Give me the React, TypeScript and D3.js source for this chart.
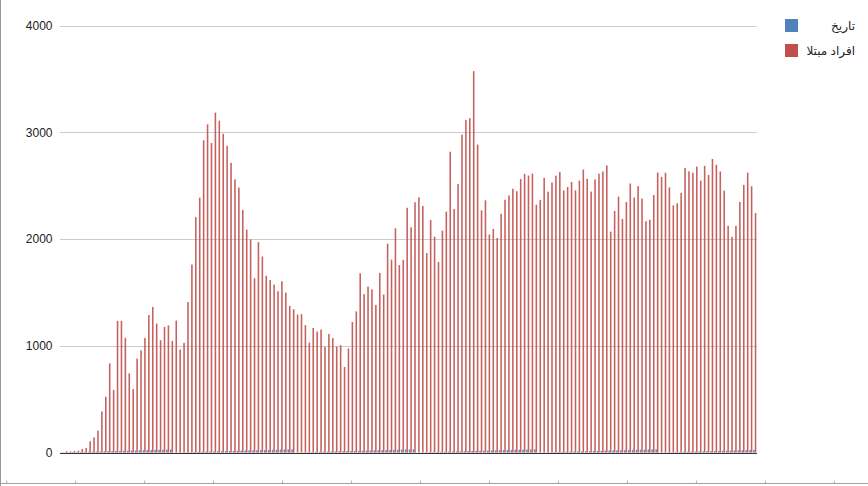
import React from "react";
import * as d3 from "d3";

// Days from 20 Feb 2020 (1 Esfand 1398) to 15 Aug 2020 (25 Mordad 1399)
const seriesNames = ["تاریخ", "افراد مبتلا"];
const seriesColors = ["#4f81bd", "#c0504d"];

// Persian day-of-month ("تاریخ")
const dateValues = [
  1, 2, 3, 4, 5, 6, 7, 8, 9, 10,
  11, 12, 13, 14, 15, 16, 17, 18, 19, 20, 21, 22, 23, 24, 25, 26, 27, 28, 29,
  1, 2, 3, 4, 5, 6, 7, 8, 9, 10, 11, 12, 13, 14, 15, 16, 17, 18, 19, 20, 21, 22, 23, 24, 25, 26, 27, 28, 29, 30, 31,
  1, 2, 3, 4, 5, 6, 7, 8, 9, 10, 11, 12, 13, 14, 15, 16, 17, 18, 19, 20, 21, 22, 23, 24, 25, 26, 27, 28, 29, 30, 31,
  1, 2, 3, 4, 5, 6, 7, 8, 9, 10, 11, 12, 13, 14, 15, 16, 17, 18, 19, 20, 21, 22, 23, 24, 25, 26, 27, 28, 29, 30, 31,
  1, 2, 3, 4, 5, 6, 7, 8, 9, 10, 11, 12, 13, 14, 15, 16, 17, 18, 19, 20, 21, 22, 23, 24, 25, 26, 27, 28, 29, 30, 31,
  1, 2, 3, 4, 5, 6, 7, 8, 9, 10, 11, 12, 13, 14, 15, 16, 17, 18, 19, 20, 21, 22, 23, 24, 25,
];

// Daily infected ("افراد مبتلا")
const casesValues = [
  // Feb 20-29
  3, 13, 10, 15, 18, 34, 44, 106, 143, 205,
  // Mar
  385, 523, 835, 586, 1234, 1234, 1076, 743, 595, 881,
  958, 1075, 1289, 1365, 1209, 1053, 1178, 1192, 1046, 1237,
  966, 1028, 1411, 1762, 2206, 2389, 2926, 3076, 2901, 3186, 3110,
  // Apr
  2987, 2875, 2715, 2560, 2483, 2274, 2089, 1997, 1634, 1972,
  1837, 1657, 1617, 1574, 1512, 1606, 1499, 1374, 1343, 1294,
  1297, 1194, 1030, 1168, 1134, 1153, 991, 1112, 1073, 993,
  // May
  1006, 802, 976, 1223, 1323, 1680, 1485, 1556, 1529, 1383,
  1683, 1481, 1958, 1808, 2102, 1757, 1806, 2294, 2111, 2346,
  2392, 2311, 1869, 2180, 2023, 1787, 2080, 2258, 2819, 2282, 2516,
  // Jun
  2979, 3117, 3134, 3574, 2886, 2269, 2364, 2043, 2095, 2011,
  2238, 2369, 2410, 2472, 2449, 2563, 2612, 2596, 2615, 2322,
  2368, 2573, 2445, 2531, 2595, 2628, 2456, 2489, 2536, 2457,
  // Jul
  2549, 2652, 2565, 2446, 2560, 2613, 2634, 2691, 2070, 2264,
  2398, 2188, 2349, 2521, 2389, 2497, 2380, 2168, 2182, 2414,
  2624, 2584, 2622, 2486, 2316, 2336, 2434, 2667, 2635, 2622, 2680,
  // Aug 1-15
  2548, 2687, 2601, 2751, 2697, 2634, 2455, 2125, 2022, 2125,
  2348, 2508, 2623, 2496, 2244,
];

const yTicks = [0, 1000, 2000, 3000, 4000];

const W = 868;
const H = 486;
const plot = { left: 60, right: 756.7, top: 25.7, bottom: 452.6 };
const FONT = "'Liberation Sans', Arial, 'DejaVu Sans', sans-serif";

export default function App() {
  const idx = casesValues.map((_, i) => i);
  const x = d3.scaleBand<number>().domain(idx).range([plot.left, plot.right]).paddingInner(0).paddingOuter(0);
  const xs = d3
    .scaleBand<number>()
    .domain([0, 1])
    .range([0, x.bandwidth()])
    .paddingInner(0)
    .paddingOuter(0.25);
  const y = d3.scaleLinear().domain([0, 4000]).range([plot.bottom, plot.top]);

  const series = [dateValues, casesValues];

  // decorative bottom strip ticks (range-control like)
  const stripTicks = d3.range(0, 13).map((k) => 6.7 + k * 68.97);

  return (
    <svg
      width={W}
      height={H}
      style={{ position: "absolute", left: 0, top: 0, background: "#fff" }}
      fontFamily={FONT}
    >
      <rect x={0} y={0} width={W} height={H} fill="#ffffff" />
      {/* gridlines */}
      {yTicks.map((t) => (
        <line
          key={"g" + t}
          x1={plot.left}
          x2={plot.right}
          y1={Math.round(y(t)) + 0.5}
          y2={Math.round(y(t)) + 0.5}
          stroke={t === 0 ? "#333333" : "#cccccc"}
          strokeWidth={1}
        />
      ))}
      {/* y labels */}
      {yTicks.map((t) => (
        <text
          key={"l" + t}
          x={52.5}
          y={y(t)}
          dy="0.36em"
          textAnchor="end"
          fontSize={12}
          fill="#222222"
        >
          {t}
        </text>
      ))}
      {/* bars */}
      {series.map((vals, s) => (
        <g key={"s" + s} fill={seriesColors[s]} fillOpacity={0.9}>
          {vals.map((v, i) => (
            <rect
              key={i}
              x={(x(i) as number) + (xs(s) as number)}
              width={xs.bandwidth()}
              y={y(v)}
              height={Math.max(0, y(0) - y(v))}
            />
          ))}
        </g>
      ))}
      {/* baseline on top */}
      <line
        x1={plot.left}
        x2={plot.right}
        y1={Math.round(y(0)) + 0.5}
        y2={Math.round(y(0)) + 0.5}
        stroke="#333333"
        strokeWidth={1}
      />
      {/* legend */}
      {seriesNames.map((name, i) => (
        <g key={"lg" + i} transform={`translate(0, ${19 + i * 25})`}>
          <rect x={785} y={0} width={13} height={13} fill={seriesColors[i]} />
          <text x={855} y={6.5} dy="0.36em" textAnchor="end" fontSize={12} fill="#222222">
            {name}
          </text>
        </g>
      ))}
      {/* outer frame pieces */}
      <line x1={0.5} x2={0.5} y1={0} y2={H} stroke="#999999" strokeWidth={1} />
      <line x1={0} x2={W} y1={483.5} y2={483.5} stroke="#a0a0a0" strokeWidth={1} />
      {stripTicks.map((tx, k) => (
        <line key={"st" + k} x1={tx} x2={tx} y1={480.5} y2={483} stroke="#b0b0b0" strokeWidth={1} />
      ))}
    </svg>
  );
}
